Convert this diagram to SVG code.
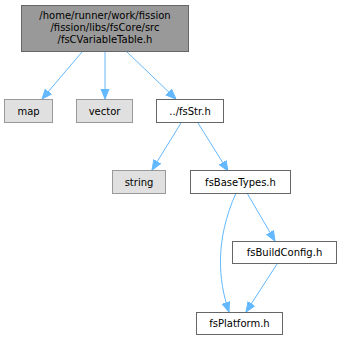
<svg xmlns="http://www.w3.org/2000/svg" width="342" height="340" viewBox="0 0 342 340">
<defs>
<marker id="ah" viewBox="0 0 10 10" refX="10" refY="5" markerWidth="10" markerHeight="10" markerUnits="userSpaceOnUse" orient="auto">
<path d="M0,1 L10,5 L0,9 Z" fill="#63b8ff" stroke="#63b8ff"/>
</marker>
<style>
.t{font-family:"DejaVu Sans",sans-serif;font-size:10px;fill:#000;text-anchor:middle}
.root rect{fill:#999999;stroke:#666666}
.sys rect{fill:#e0e0e0;stroke:#999999}
.loc rect{fill:#ffffff;stroke:#666666}
.e{fill:none;stroke:#63b8ff;stroke-width:1;marker-end:url(#ah)}
</style>
</defs>
<rect width="342" height="340" fill="#ffffff"/>
<g id="edges">
<path class="e" d="M82,52 L42,99"/>
<path class="e" d="M105,52 L105,99"/>
<path class="e" d="M127,52 L176,99"/>
<path class="e" d="M181,123 L152,170"/>
<path class="e" d="M198,123 L228,171"/>
<path class="e" d="M236,193 C215,240 218,280 229,312"/>
<path class="e" d="M247,193 L275,241"/>
<path class="e" d="M277,264 L246,312"/>
</g>
<g id="n_root" class="root"><rect x="21.5" y="5.5" width="167" height="46"/>
<text class="t" x="105" y="19">/home/runner/work/fission</text>
<text class="t" x="105" y="31">/fission/libs/fsCore/src</text>
<text class="t" x="105" y="43">/fsCVariableTable.h</text></g>
<g id="n_map" class="sys"><rect x="4.5" y="99.5" width="48" height="23"/><text class="t" x="28.5" y="115">map</text></g>
<g id="n_vector" class="sys"><rect x="76.5" y="99.5" width="56" height="23"/><text class="t" x="104.5" y="115">vector</text></g>
<g id="n_fsstr" class="loc"><rect x="156.5" y="99.5" width="67" height="23"/><text class="t" x="190" y="115">../fsStr.h</text></g>
<g id="n_string" class="sys"><rect x="112.5" y="170.5" width="53" height="23"/><text class="t" x="139" y="186">string</text></g>
<g id="n_basetypes" class="loc"><rect x="190.5" y="170.5" width="100" height="23"/><text class="t" x="240.5" y="186">fsBaseTypes.h</text></g>
<g id="n_buildconfig" class="loc"><rect x="232.5" y="241.5" width="104" height="22"/><text class="t" x="284.5" y="256">fsBuildConfig.h</text></g>
<g id="n_platform" class="loc"><rect x="196.5" y="312.5" width="86" height="22"/><text class="t" x="239.5" y="327">fsPlatform.h</text></g>
</svg>
